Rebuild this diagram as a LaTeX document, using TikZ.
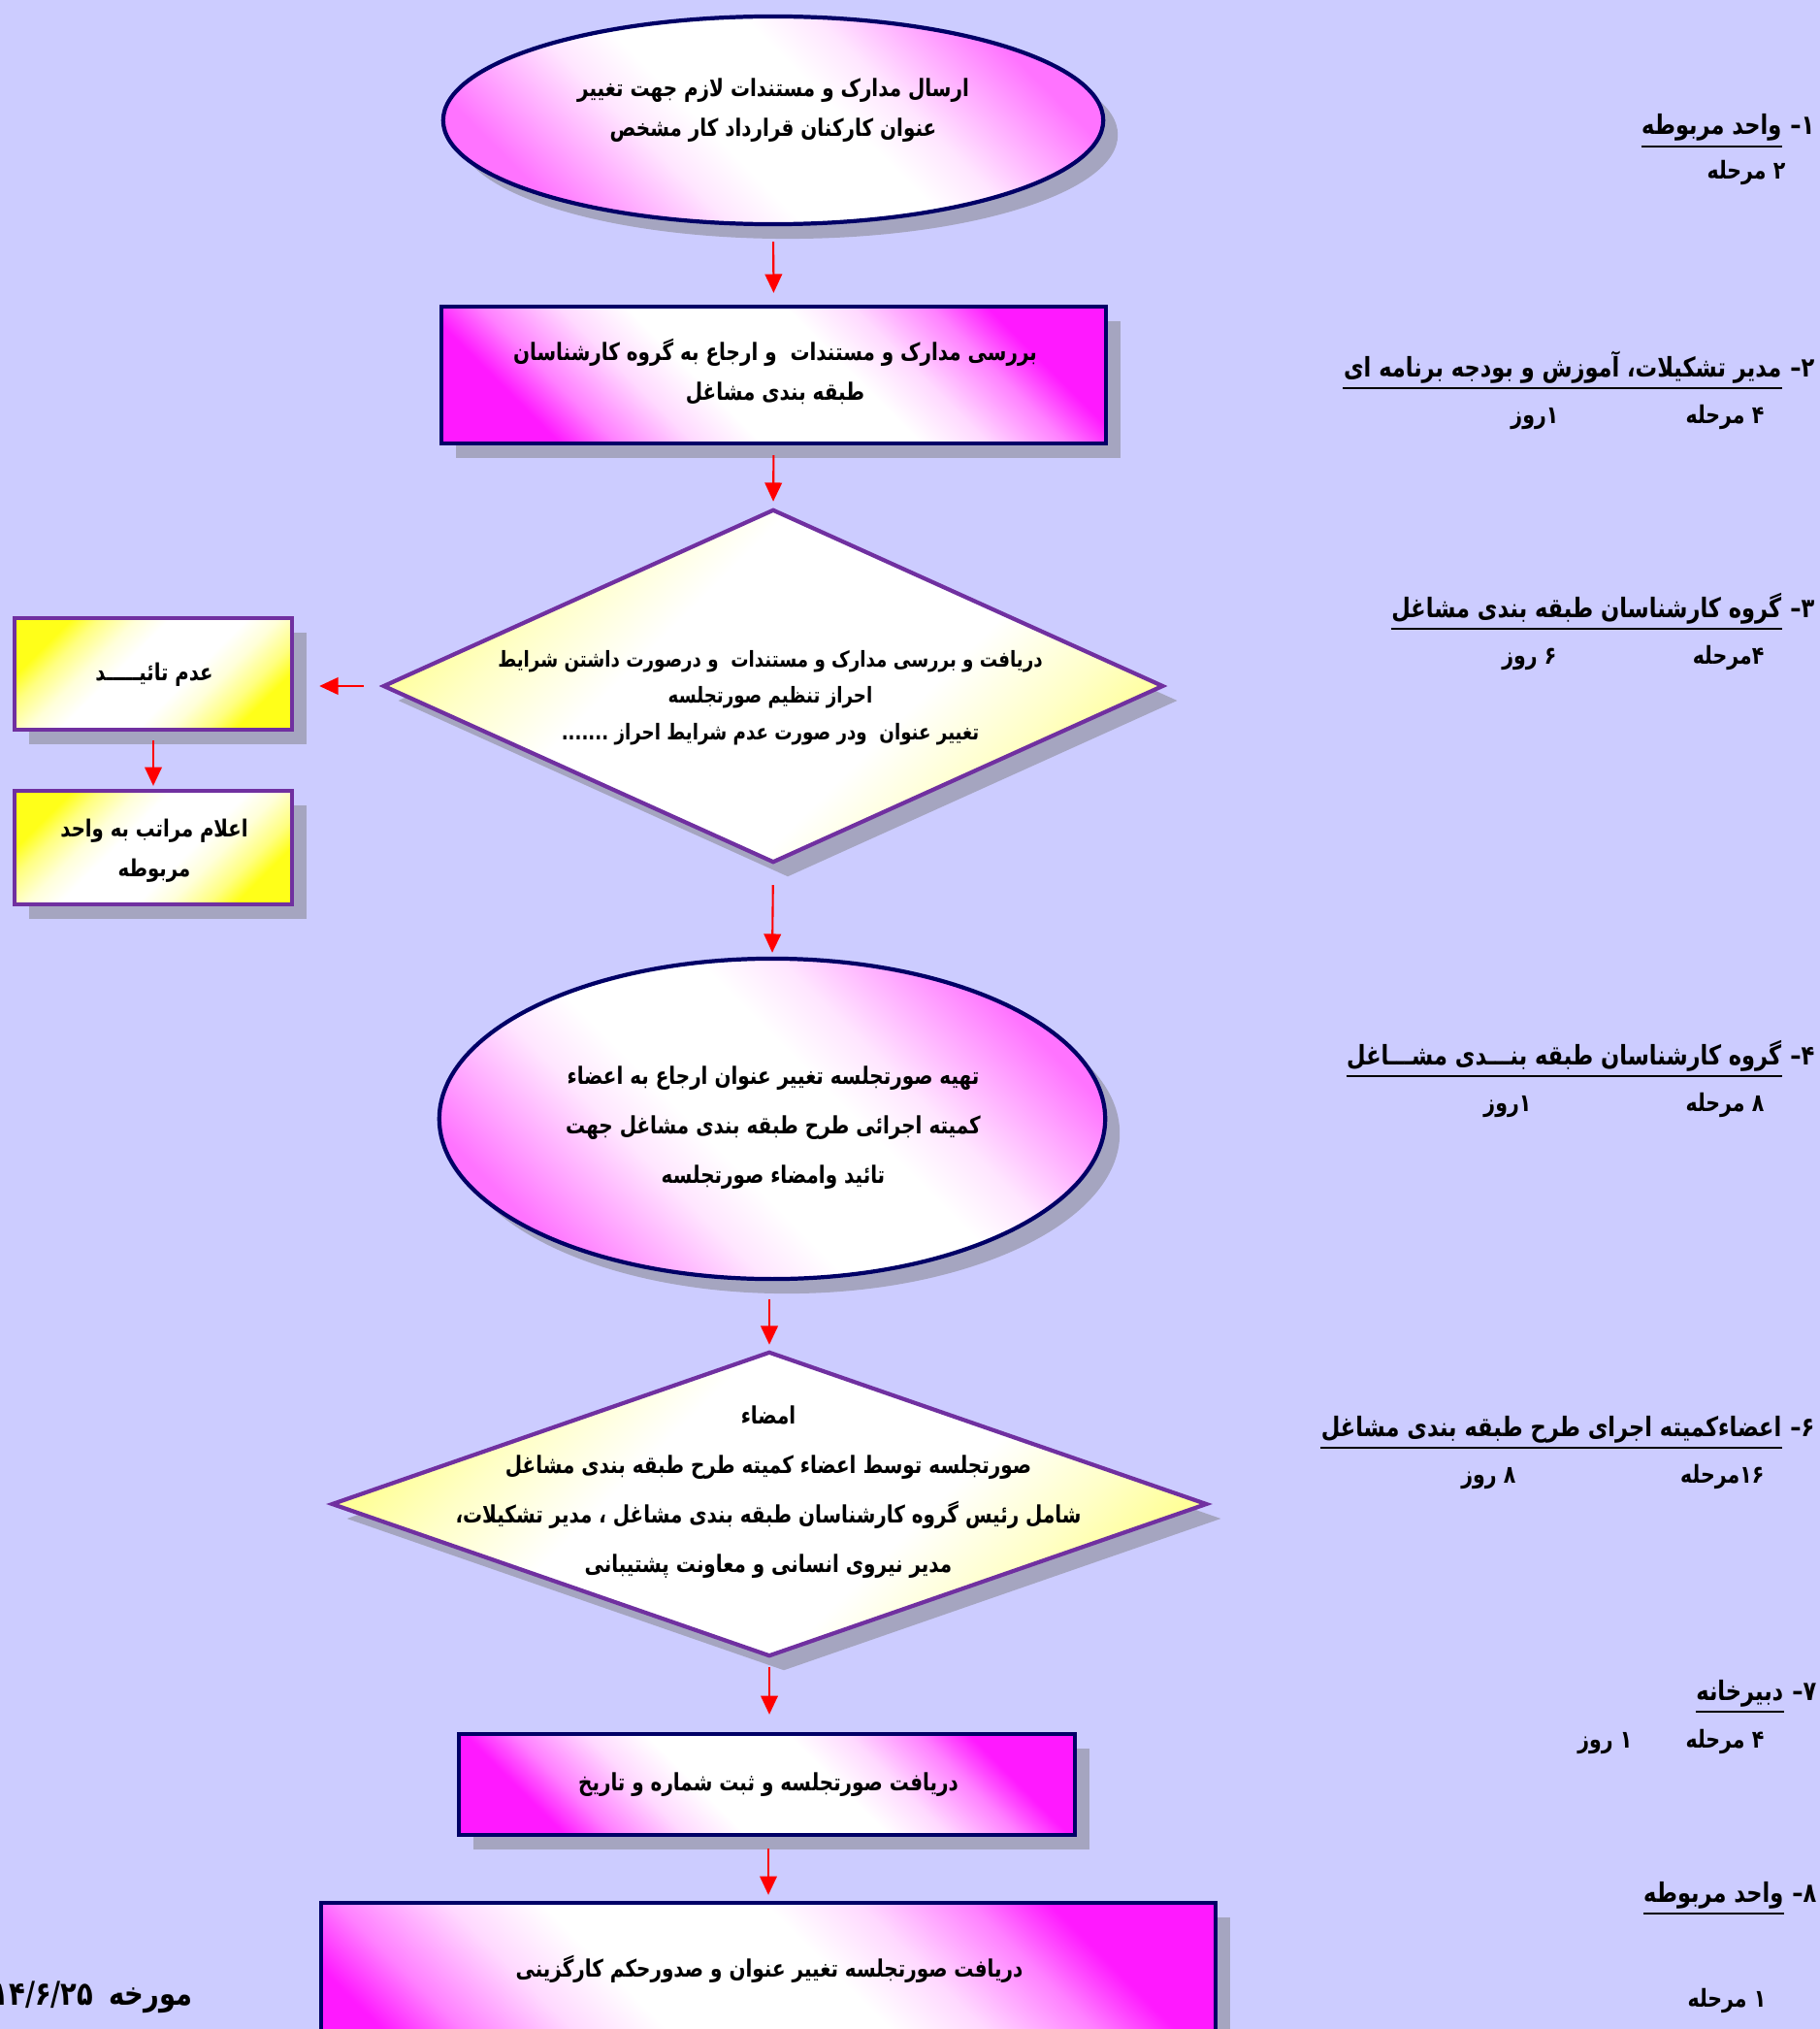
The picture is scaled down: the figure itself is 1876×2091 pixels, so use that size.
\documentclass[tikz,border=0pt]{standalone}
\usepackage{fontspec}
\usetikzlibrary{shapes.geometric,arrows.meta,shadows}
\TeXXeTstate=1
\newfontfamily\persianfont[Script=Arabic,FakeStretch=0.81]{DejaVu Sans}
\newcommand\rtl[1]{\beginR #1\endR}
\definecolor{bgc}{RGB}{204,204,255}
\definecolor{navyb}{RGB}{0,0,102}
\definecolor{purp}{RGB}{112,48,160}
\definecolor{shd}{RGB}{165,165,192}
\definecolor{arrowred}{RGB}{255,0,0}
\pgfdeclarehorizontalshading{magsh}{100bp}{rgb(0bp)=(1,0.1,1); rgb(25bp)=(1,0.1,1); rgb(30bp)=(1,0.5,1); rgb(37bp)=(1,0.85,1); rgb(43bp)=(1,1,1); rgb(57bp)=(1,1,1); rgb(63bp)=(1,0.85,1); rgb(70bp)=(1,0.5,1); rgb(75bp)=(1,0.1,1); rgb(100bp)=(1,0.1,1)}
\pgfdeclarehorizontalshading{ellsh}{100bp}{rgb(0bp)=(1,0.45,1); rgb(25bp)=(1,0.45,1); rgb(31bp)=(1,0.66,1); rgb(38bp)=(1,0.9,1); rgb(44bp)=(1,1,1); rgb(56bp)=(1,1,1); rgb(62bp)=(1,0.9,1); rgb(69bp)=(1,0.66,1); rgb(75bp)=(1,0.45,1); rgb(100bp)=(1,0.45,1)}
\pgfdeclarehorizontalshading{yelsh}{100bp}{rgb(0bp)=(1,1,0.1); rgb(25bp)=(1,1,0.1); rgb(30bp)=(1,1,0.5); rgb(37bp)=(1,1,0.85); rgb(43bp)=(1,1,1); rgb(57bp)=(1,1,1); rgb(63bp)=(1,1,0.85); rgb(70bp)=(1,1,0.5); rgb(75bp)=(1,1,0.1); rgb(100bp)=(1,1,0.1)}
\pgfdeclarehorizontalshading{palesh}{100bp}{rgb(0bp)=(1,1,0.6); rgb(25bp)=(1,1,0.6); rgb(31bp)=(1,1,0.78); rgb(40bp)=(1,1,1); rgb(60bp)=(1,1,1); rgb(69bp)=(1,1,0.78); rgb(75bp)=(1,1,0.6); rgb(100bp)=(1,1,0.6)}
\begin{document}
\begin{tikzpicture}[x=0.01cm,y=-0.01cm,
  shadowed/.style={drop shadow={shadow xshift=0.15cm,shadow yshift=-0.15cm,fill=shd,opacity=1}},
  magshape/.style={draw=navyb,line width=1.2pt,shading=magsh,shading angle=45,inner sep=0pt,shadowed},
  ellshape/.style={draw=navyb,line width=1.2pt,shading=ellsh,shading angle=45,inner sep=0pt,shadowed,ellipse},
  yelshape/.style={draw=purp,line width=1.2pt,shading=yelsh,shading angle=-45,inner sep=0pt,shadowed},
  paleshape/.style={draw=purp,line width=1.2pt,shading=palesh,shading angle=-45,inner sep=0pt,shadowed,shape=diamond},
  txt/.style={font=\persianfont\bfseries\fontsize{7}{11.7}\selectfont,align=center,inner sep=0pt,text=black},
  txtwide/.style={font=\persianfont\bfseries\fontsize{7}{14.5}\selectfont,align=center,inner sep=0pt,text=black},
  head/.style={font=\persianfont\bfseries\fontsize{7.9}{10}\selectfont,inner sep=0pt,anchor=base east},
  sub/.style={font=\persianfont\bfseries\fontsize{7.2}{10}\selectfont,inner sep=0pt,anchor=base east},
  uline/.style={line width=0.8pt,black},
  flow/.style={draw=arrowred,line width=0.6pt,-{Triangle[length=5.5pt,width=5pt]}}]
\useasboundingbox (0,0) rectangle (1876,2091);
\clip (0,0) rectangle (1876,2091);
\fill[bgc] (0,0) rectangle (1876,2091);

% shapes
\node[ellshape,minimum width=6.8cm,minimum height=2.14cm] (e1) at (797,124) {};
\node[txt] (e1t) at (797,114) {\rtl{ارسال مدارک و مستندات لازم جهت تغییر}\\\rtl{عنوان کارکنان قرارداد کار مشخص}};

\node[magshape,rectangle,minimum width=6.85cm,minimum height=1.41cm] (b2) at (797.5,386.5) {};
\node[txt] (b2t) at (799,383) {\rtl{بررسی مدارک و مستندات\ \ و ارجاع به گروه کارشناسان}\\\rtl{طبقه بندی مشاغل}};

\node[paleshape,minimum width=8.04cm,minimum height=3.64cm] (d1) at (797,707) {};
\node[txt,font=\persianfont\bfseries\fontsize{6.4}{10.7}\selectfont] (d1t) at (794,719) {\rtl{دریافت و بررسی مدارک و مستندات\ \ و درصورت داشتن شرایط}\\\rtl{احراز تنظیم صورتجلسه}\\\rtl{تغییر عنوان\ \ ودر صورت عدم شرایط احراز .......}};

\node[yelshape,rectangle,minimum width=2.86cm,minimum height=1.15cm] (s1) at (158,694.5) {};
\node[txt,font=\persianfont\bfseries\fontsize{6.9}{11.7}\selectfont] (s1t) at (159,695) {\rtl{عدم تائیـــــد}};

\node[yelshape,rectangle,minimum width=2.86cm,minimum height=1.17cm] (s2) at (158,873.5) {};
\node[txt,font=\persianfont\bfseries\fontsize{6.9}{11.7}\selectfont] (s2t) at (159,877) {\rtl{اعلام مراتب به واحد}\\\rtl{مربوطه}};

\node[ellshape,minimum width=6.86cm,minimum height=3.3cm] (e2) at (796,1153) {};
\node[txtwide] (e2t) at (797,1162) {\rtl{تهیه صورتجلسه تغییر عنوان ارجاع به اعضاء}\\\rtl{کمیته اجرائی طرح طبقه بندی مشاغل جهت}\\\rtl{تائید وامضاء صورتجلسه}};

\node[paleshape,minimum width=9.02cm,minimum height=3.14cm] (d2) at (793,1550) {};
\node[txtwide] (d2t) at (792,1538) {\rtl{امضاء}\\\rtl{صورتجلسه توسط اعضاء کمیته طرح طبقه بندی مشاغل}\\\rtl{شامل رئیس گروه کارشناسان طبقه بندی مشاغل ، مدیر تشکیلات،}\\\rtl{مدیر نیروی انسانی و معاونت پشتیبانی}};

\node[magshape,rectangle,minimum width=6.35cm,minimum height=1.04cm] (b3) at (790.5,1839) {};
\node[txt] (b3t) at (792,1839) {\rtl{دریافت صورتجلسه و ثبت شماره و تاریخ}};

\node[magshape,rectangle,minimum width=9.22cm,minimum height=2.39cm] (b4) at (792,2080.5) {};
\node[txt] (b4t) at (793,2029) {\rtl{دریافت صورتجلسه تغییر عنوان و صدورحکم کارگزینی}};

% connectors
\draw[flow,shorten <=0.16cm,shorten >=0.12cm] (e1.south) -- (b2.north);
\draw[flow,shorten <=0.10cm,shorten >=0.06cm] (b2.south) -- (d1.north);
\draw[flow,shorten <=0.18cm,shorten >=0.26cm] (d1.west) -- (d1.west -| s1.east);
\draw[flow,shorten <=0.09cm,shorten >=0.03cm] (s1.south) -- (s2.north);
\draw[flow,shorten <=0.21cm,shorten >=0.04cm] (d1.south) -- (e2.north);
\draw[flow,shorten <=0.19cm,shorten >=0.05cm] (e2.south -| d2.north) -- (d2.north);
\draw[flow,shorten <=0.09cm,shorten >=0.18cm] (d2.south) -- (d2.south |- b3.north);
\draw[flow,shorten <=0.12cm,shorten >=0.06cm] (b3.south -| b4.north) -- (b4.north);

% right-hand labels
\node[head] (n1) at (1871,139) {۱–};
\node[head] (h1) at (1837,139) {\rtl{واحد مربوطه}};
\draw[uline] ([yshift=-0.12cm]h1.base west) -- ([yshift=-0.12cm]h1.base east);
\node[sub] (m1) at (1841,185) {\rtl{۲ مرحله}};

\node[head] (n2) at (1871,388) {۲–};
\node[head] (h2) at (1837,388) {\rtl{مدیر تشکیلات، آموزش و بودجه برنامه ای}};
\draw[uline] ([yshift=-0.12cm]h2.base west) -- ([yshift=-0.12cm]h2.base east);
\node[sub] (m2) at (1819,436) {\rtl{۴ مرحله}};
\node[sub] (r2) at (1607,436) {\rtl{۱روز}};

\node[head] (n3) at (1871,636) {۳–};
\node[head] (h3) at (1837,636) {\rtl{گروه کارشناسان طبقه بندی مشاغل}};
\draw[uline] ([yshift=-0.12cm]h3.base west) -- ([yshift=-0.12cm]h3.base east);
\node[sub] (m3) at (1819,684) {\rtl{۴مرحله}};
\node[sub] (r3) at (1605,684) {\rtl{۶ روز}};

\node[head] (n4) at (1871,1097) {۴–};
\node[head] (h4) at (1837,1097) {\rtl{گروه کارشناسان طبقه بنـــدی مشـــاغل}};
\draw[uline] ([yshift=-0.12cm]h4.base west) -- ([yshift=-0.12cm]h4.base east);
\node[sub] (m4) at (1819,1145) {\rtl{۸ مرحله}};
\node[sub] (r4) at (1579,1145) {\rtl{۱روز}};

\node[head] (n6) at (1871,1480) {۶–};
\node[head] (h6) at (1837,1480) {\rtl{اعضاءکمیته اجرای طرح طبقه بندی مشاغل}};
\draw[uline] ([yshift=-0.12cm]h6.base west) -- ([yshift=-0.12cm]h6.base east);
\node[sub] (m6) at (1819,1528) {\rtl{۱۶مرحله}};
\node[sub] (r6) at (1563,1528) {\rtl{۸ روز}};

\node[head] (n7) at (1873,1752) {۷–};
\node[head] (h7) at (1839,1752) {\rtl{دبیرخانه}};
\draw[uline] ([yshift=-0.12cm]h7.base west) -- ([yshift=-0.12cm]h7.base east);
\node[sub] (m7) at (1819,1801) {\rtl{۴ مرحله}};
\node[sub] (r7) at (1683,1801) {\rtl{۱ روز}};

\node[head] (n8) at (1873,1960) {۸–};
\node[head] (h8) at (1839,1960) {\rtl{واحد مربوطه}};
\draw[uline] ([yshift=-0.12cm]h8.base west) -- ([yshift=-0.12cm]h8.base east);
\node[sub] (m8) at (1821,2068) {\rtl{۱ مرحله}};

\node[head,font=\persianfont\bfseries\fontsize{9.6}{12}\selectfont] (date) at (199,2066) {\rtl{مورخه\hspace{4.5pt}۱۴/۶/۲۵}};
\end{tikzpicture}
\end{document}
